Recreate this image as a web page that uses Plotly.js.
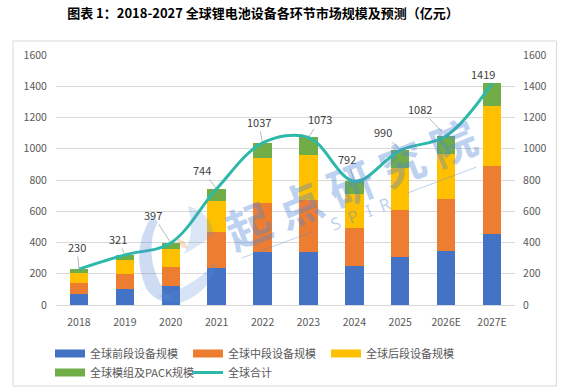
<!DOCTYPE html>
<html>
<head>
<meta charset="utf-8">
<script src="https://cdn.plot.ly/plotly-3.0.1.min.js"></script>
<style>
html,body{margin:0;padding:0;background:#fff;}
#chart{width:567px;height:389px;}
</style>
</head>
<body>
<div id="chart"></div>
<script>
// ---- data ----
var years = ['2018','2019','2020','2021','2022','2023','2024','2025','2026E','2027E'];
var frontEnd = [70, 100, 124, 238, 338, 341, 250, 307, 348, 456];
var midEnd   = [73, 98, 120, 230, 315, 331, 245, 301, 330, 434];
var backEnd  = [60, 88, 115, 200, 285, 288, 215, 272, 288, 384];
var packMod  = [27, 35, 38, 76, 99, 113, 82, 110, 116, 145];
var totals   = [230, 321, 397, 744, 1037, 1073, 792, 990, 1082, 1419];
var seriesNames = ['全球前段设备规模','全球中段设备规模','全球后段设备规模','全球模组及PACK规模','全球合计'];

// ---- styles ----
var colors = ['#4472C4','#ED7D31','#FFC000','#70AD47','#2DB9AA'];
var labelOffsets = [[-2,-22],[-7,-16],[-18,-28],[-15,-19],[-4,-21],[12,-18],[-7,-22],[-17,-18],[-26,-27],[-9,-9]];
var fontFam = '"Noto Sans CJK SC", "Noto Sans", sans-serif';
var wmColor = 'rgba(80,135,215,0.38)';

var stacks = [frontEnd, midEnd, backEnd, packMod];
var traces = stacks.map(function(v, k){
  return {type:'bar', x:years, y:v, name:seriesNames[k], marker:{color:colors[k]},
          showlegend:false};
});
traces.push({type:'scatter', mode:'lines', x:years, y:totals, yaxis:'y2',
  line:{color:colors[4], width:3, shape:'spline', smoothing:1}, name:seriesNames[4], showlegend:false});
// legend swatches
for (var k = 0; k < 5; k++) {
  traces.push({type:'scatter', mode:'lines', x:[years[0]], y:[null], name:seriesNames[k],
    line:{color:colors[k], width: k < 4 ? 8 : 3}, showlegend:true});
}

// data labels: x given as category index
var annotations = years.map(function(yr, k){
  return {x:k, y:totals[k], xref:'x', yref:'y', text:String(totals[k]), showarrow:true,
    arrowhead:0, arrowwidth:0.8, arrowcolor: k === 9 ? 'rgba(0,0,0,0)' : '#A6A6A6',
    ax:labelOffsets[k][0], ay:labelOffsets[k][1], standoff:1,
    font:{family:fontFam, size:11, color:'#404040'}};
});

var W = 459.5, H = 250, L = 56, B = 305;
function px(v){ return (v - L) / W; }
function py(v){ return (B - v) / H; }
function pathPx(cmds){
  // cmds: array of [letter, x1, y1, x2, y2 ...] in pixel coords -> paper path
  return cmds.map(function(c){
    var s = c[0];
    for (var j = 1; j < c.length; j += 2) s += (j > 1 ? ' ' : '') + px(c[j]).toFixed(4) + ',' + py(c[j+1]).toFixed(4);
    return s;
  }).join(' ') + ' Z';
}

// watermark
annotations.push({xref:'paper', yref:'paper', x:px(350), y:py(182), text:'起 点 研 究 院', showarrow:false,
  textangle:-22, font:{family:fontFam, size:45, color:wmColor, weight:700}});
annotations.push({xref:'paper', yref:'paper', x:px(361), y:py(213), text:'S  P  I  R', showarrow:false,
  textangle:-21, font:{family:'"Noto Sans", sans-serif', size:17, color:wmColor}});

var layout = {
  width:567, height:389,
  margin:{l:56, r:51.5, t:55, b:84, autoexpand:false},
  paper_bgcolor:'#fff', plot_bgcolor:'#fff',
  title:{text:'<b>图表 1：2018-2027 全球锂电池设备各环节市场规模及预测（亿元）</b>',
    xref:'container', yref:'container', x:263/567, xanchor:'center', y:1-13/389, yanchor:'middle',
    font:{family:fontFam, size:13, color:'#000'}},
  barmode:'stack', bargap:0.6,
  xaxis:{type:'category', categoryorder:'array', categoryarray:years, range:[-0.5, 9.5],
    showgrid:false, showline:true, linecolor:'#D9D9D9', linewidth:1,
    ticks:'outside', ticklen:7, tickcolor:'rgba(0,0,0,0)',
    tickfont:{family:fontFam, size:10.5, color:'#595959'}},
  yaxis:{range:[0,1600], dtick:200, showgrid:true, gridcolor:'#D9D9D9', gridwidth:1,
    zeroline:false, showline:false, ticks:'outside', ticklen:6, tickcolor:'rgba(0,0,0,0)',
    tickfont:{family:fontFam, size:10.5, color:'#595959'}},
  yaxis2:{range:[0,1600], dtick:200, overlaying:'y', side:'right', showgrid:false,
    zeroline:false, showline:false, ticks:'outside', ticklen:5, tickcolor:'rgba(0,0,0,0)',
    tickfont:{family:fontFam, size:10.5, color:'#595959'}},
  showlegend:true,
  legend:{orientation:'h', traceorder:'normal', x:px(50), xanchor:'left', y:py(339), yanchor:'top',
    entrywidth:93, entrywidthmode:'pixels', itemwidth:30, tracegroupgap:0,
    font:{family:fontFam, size:11, color:'#595959'}, bgcolor:'rgba(0,0,0,0)'},
  annotations:annotations,
  shapes:[
    {type:'rect', xref:'paper', yref:'paper', x0:px(13), x1:px(557), y0:py(386), y1:py(41),
     line:{color:'#D9D9D9', width:1}, fillcolor:'rgba(0,0,0,0)', layer:'below'},
    {type:'line', xref:'paper', yref:'paper', x0:px(242), y0:py(258), x1:px(312), y1:py(232),
     line:{color:wmColor, width:1}},
    {type:'line', xref:'paper', yref:'paper', x0:px(408), y0:py(193), x1:px(477), y1:py(167),
     line:{color:wmColor, width:1}},
    // logo (approximate swooshes)
    {type:'path', xref:'paper', yref:'paper', line:{width:0}, fillcolor:'rgba(90,140,215,0.30)',
     path:pathPx([['M',152,216],['Q',130,250,146,288],['Q',156,304,176,302],['Q',156,286,152,258],['Q',150,236,158,222]])},
    {type:'path', xref:'paper', yref:'paper', line:{width:0}, fillcolor:'rgba(90,140,215,0.25)',
     path:pathPx([['M',158,296],['Q',190,290,216,262],['Q',212,292,180,303]])},
    {type:'path', xref:'paper', yref:'paper', line:{width:0}, fillcolor:'rgba(90,140,215,0.22)',
     path:pathPx([['M',188,206],['Q',210,212,214,234],['Q',200,246,184,254],['Q',196,232,188,206]])},
    {type:'path', xref:'paper', yref:'paper', line:{width:0}, fillcolor:'rgba(235,150,80,0.30)',
     path:pathPx([['M',176,238],['Q',186,240,188,248],['Q',180,250,176,238]])}
  ]
};

Plotly.newPlot('chart', traces, layout, {displayModeBar:false, staticPlot:true});
</script>
</body>
</html>
